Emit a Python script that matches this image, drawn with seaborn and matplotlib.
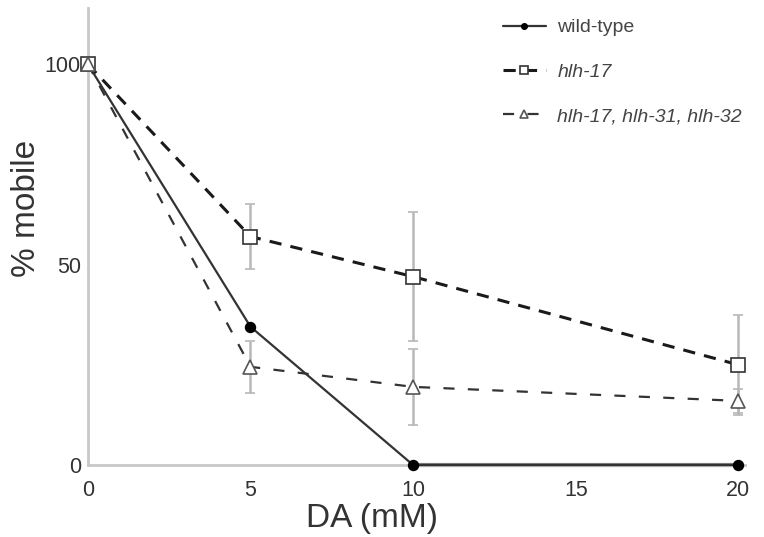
import numpy as np
import pandas as pd
import matplotlib
matplotlib.use("Agg")
import matplotlib.pyplot as plt
import seaborn as sns

sns.set_theme(style="white")
plt.rcParams['font.family'] = ['Liberation Sans', 'DejaVu Sans']

dose = [0, 5, 10, 20]
wt = [100, 34.5, 0, 0]
h17 = [100, 57, 47, 25]
h17_err = [0, 8, 16, 12.5]
triple = [100, 24.5, 19.5, 16]
triple_err = [0, 6.5, 9.5, 3]
labels = ["wild-type", "hlh-17", "hlh-17, hlh-31, hlh-32"]
xticks = [0, 5, 10, 15, 20]
yticks = [0, 50, 100]

fig = plt.figure(figsize=(7.64, 5.37), dpi=100)
ax = fig.add_axes([0.115, 0.134, 0.86, 0.851])

ecol = "#b8b8b8"
for vals, err in [(h17, h17_err), (triple, triple_err)]:
    ax.errorbar(dose, vals, yerr=err, fmt="none", ecolor=ecol, elinewidth=1.8,
                capsize=3.5, capthick=1.2, zorder=1)

df = pd.DataFrame({"dose": dose * 3,
                   "val": wt + h17 + triple,
                   "series": [labels[0]] * 4 + [labels[1]] * 4 + [labels[2]] * 4})

styles = {
    labels[0]: dict(color="#333333", ls="-", lw=1.6, marker="o", mfc="black", mec="black", ms=7),
    labels[1]: dict(color="#1a1a1a", ls=(0, (4, 3)), lw=2.2, marker="s", mfc="white", mec="#333333", ms=10),
    labels[2]: dict(color="#333333", ls=(0, (5, 6)), lw=1.6, marker="^", mfc="white", mec="#555555", ms=10),
}
for lab in labels:
    sub = df[df.series == lab]
    st = styles[lab]
    sns.lineplot(data=sub, x="dose", y="val", ax=ax, color=st["color"], linestyle=st["ls"],
                 linewidth=st["lw"], marker=st["marker"], markerfacecolor=st["mfc"],
                 markeredgecolor=st["mec"], markersize=st["ms"], markeredgewidth=1.2,
                 label=lab, clip_on=False, zorder=3)

# thicker gray line along the zero segment
ax.plot([10, 20], [0, 0], color="#808080", lw=3, zorder=2, clip_on=False)

ax.set_xlim(0, 20.2)
ax.set_ylim(0, 114)
ax.set_xticks(xticks)
ax.set_yticks(yticks)
ax.set_yticks([25, 75], minor=True)
ax.tick_params(axis="both", which="both", length=3, color="#cccccc", labelsize=15.5,
               labelcolor="#333333", pad=4)
ax.tick_params(axis="x", pad=8)
ax.tick_params(axis="y", pad=2)
for s in ["top", "right"]:
    ax.spines[s].set_visible(False)
for s in ["left", "bottom"]:
    ax.spines[s].set_color("#c8c8c8")
    ax.spines[s].set_linewidth(2)
ax.set_xlabel("DA (mM)", fontsize=24, color="#333333")
ax.set_ylabel("% mobile", fontsize=24, color="#333333")
ax.xaxis.set_label_coords((372 - 88) / 657, (465 - 503) / 457)
ax.yaxis.set_label_coords((42 - 88) / 657, (465 - 208) / 457)

handles, labs = ax.get_legend_handles_labels()
ax.legend_.remove()
leg = fig.legend(handles, labs, loc="upper left", bbox_to_anchor=(495 / 764, 1 - 11 / 537),
                 frameon=False, fontsize=14, handlelength=2.2, handletextpad=0.6,
                 labelspacing=1.38, markerscale=0.55, borderaxespad=0)
for t in leg.get_texts():
    t.set_color("#444444")
    if t.get_text() != "wild-type":
        t.set_style("italic")

fig.savefig("out.png", dpi=100)
